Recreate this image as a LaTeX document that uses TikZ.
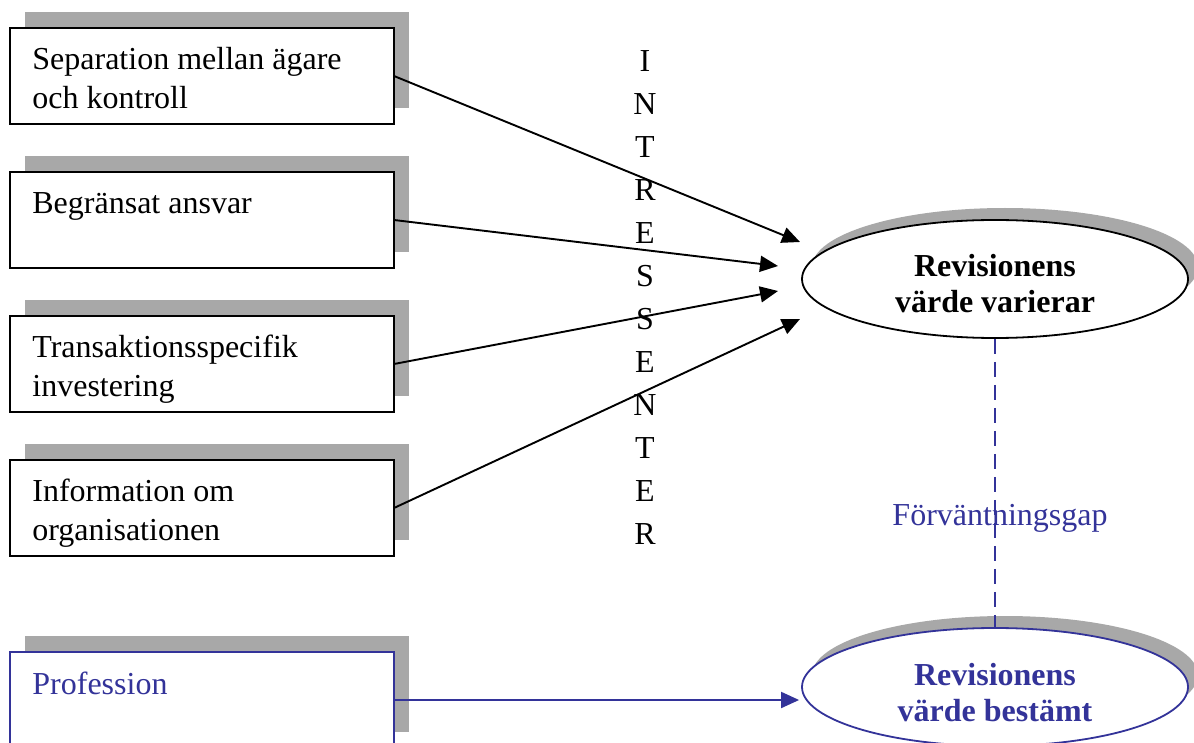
\documentclass[tikz,border=0pt]{standalone}
\usepackage{fontspec}
\setmainfont{Liberation Serif}
\usetikzlibrary{arrows.meta,shapes.geometric,shadows}
\definecolor{pblue}{HTML}{333399}
\definecolor{shadowgray}{HTML}{A8A8A8}
\tikzset{
  txt/.style={font={\fontsize{16}{19.5}\selectfont}, inner sep=0pt, align=left, anchor=north west},
  boxshadow/.style={drop shadow={shadow xshift=7.5pt, shadow yshift=8pt, fill=shadowgray, opacity=1}},
  ellshadow/.style={drop shadow={shadow xshift=5pt, shadow yshift=6pt, fill=shadowgray, opacity=1}},
  factor/.style={draw=black, line width=1pt, fill=white, rectangle, inner sep=0pt, outer sep=0pt,
    minimum width=192pt, minimum height=48pt, anchor=north west, boxshadow},
  result/.style={draw=black, line width=0.9pt, fill=white, ellipse, inner sep=0pt,
    minimum width=193pt, minimum height=59pt, ellshadow},
  restxt/.style={font={\bfseries\fontsize{16}{18}\selectfont}, align=center, inner sep=0pt},
  arr/.style={line width=0.95pt, -{Triangle[length=9pt,width=8pt]}},
}
\begin{document}
\begin{tikzpicture}[x=0.5pt,y=-0.5pt]
\clip (0,0) rectangle (1194,743);
\useasboundingbox (0,0) rectangle (1194,743);
% boxes
\node[factor] (b1) at (10,28) {};
\node[factor] (b2) at (10,172) {};
\node[factor] (b3) at (10,316) {};
\node[factor] (b4) at (10,460) {};
\node[factor, draw=pblue] (b5) at (10,652) {};
\node[txt] (t1) at ([shift={(22,19)}]b1.north west) {Separation mellan ägare\\och kontroll};
\node[txt] (t2) at ([shift={(22,20)}]b2.north west) {Begränsat ansvar};
\node[txt] (t3) at ([shift={(22,19)}]b3.north west) {Transaktionsspecifik\\investering};
\node[txt] (t4) at ([shift={(22,19)}]b4.north west) {Information om\\organisationen};
\node[txt, text=pblue] (t5) at ([shift={(22,20)}]b5.north west) {Profession};
% vertical word
\node[font={\fontsize{16}{21.5}\selectfont}, inner sep=0pt, align=center, anchor=north] (iw) at (645,50)
  {I\\N\\T\\R\\E\\S\\S\\E\\N\\T\\E\\R};
% ellipses
\node[result] (e1) at (995,279) {};
\node[restxt] (e1t) at ([yshift=-2.5pt]e1.center) {Revisionens\\värde varierar};
\node[result, draw=pblue] (e2) at (995,687) {};
\node[restxt, text=pblue] (e2t) at ([yshift=-3pt]e2.center) {Revisionens\\värde bestämt};
% arrow tips
\coordinate (c1) at (800,242);
\coordinate (c2) at (778,266);
\coordinate (c3) at (778,291);
\coordinate (c4) at (800,319);
\draw[arr] (b1.east) -- (c1);
\draw[arr] (b2.east) -- (c2);
\draw[arr] (b3.east) -- (c3);
\draw[arr] (b4.east) -- (c4);
\draw[arr, pblue] (b5.east) -- ([xshift=-1pt]b5.east -| e2.west);
% dashed gap
\draw[pblue, line width=0.8pt, dash pattern=on 7.5pt off 4pt] (e1.south) -- (e2.north);
\node[font={\fontsize{16}{19.5}\selectfont}, text=pblue, inner sep=0pt] (gap) at (1000,518) {Förväntningsgap};
\end{tikzpicture}
\end{document}
